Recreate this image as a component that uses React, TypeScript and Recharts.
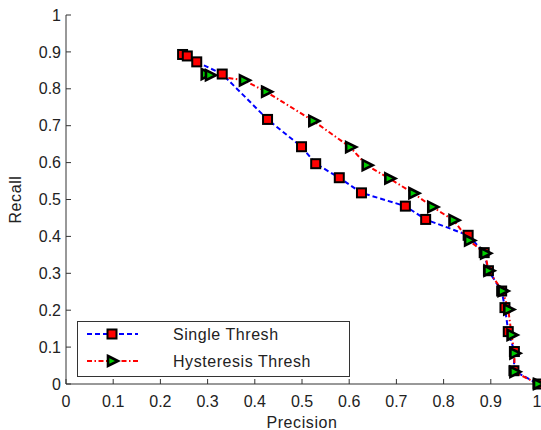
import { Legend, Line, LineChart, XAxis, YAxis } from "recharts";

// precision / recall pairs
const singleP = [0.247, 0.257, 0.277, 0.331, 0.427, 0.499, 0.529, 0.579, 0.626, 0.719, 0.762, 0.852, 0.886, 0.895, 0.923, 0.93, 0.937, 0.95, 0.949, 1.0];
const singleR = [0.893, 0.889, 0.873, 0.84, 0.717, 0.643, 0.597, 0.559, 0.518, 0.482, 0.446, 0.403, 0.356, 0.307, 0.252, 0.207, 0.142, 0.088, 0.036, 0.0];
const hystP = [0.296, 0.305, 0.377, 0.424, 0.524, 0.602, 0.637, 0.685, 0.736, 0.776, 0.821, 0.854, 0.888, 0.895, 0.925, 0.937, 0.944, 0.95, 0.95, 1.0];
const hystR = [0.84, 0.837, 0.823, 0.792, 0.713, 0.642, 0.593, 0.557, 0.517, 0.48, 0.444, 0.389, 0.354, 0.307, 0.252, 0.202, 0.133, 0.083, 0.033, 0.0];
const TICKS = [0, 0.1, 0.2, 0.3, 0.4, 0.5, 0.6, 0.7, 0.8, 0.9, 1];

const single = singleP.map((p, i) => ({ p, r: singleR[i] }));
const hyst = hystP.map((p, i) => ({ p, r: hystR[i] }));

const AXIS = "#333";
const TEXT = "#222";
const FONT = "Arial, 'Liberation Sans', sans-serif";
const BLUE = "#0000ff";
const RED = "#ff0000";
const GREEN = "#00cc00";

function square(cx: number, cy: number, key?: string) {
  return (
    <rect key={key} x={cx - 4.5} y={cy - 4.5} width={9} height={9} fill={RED} stroke="#000" strokeWidth={2} />
  );
}

function triangle(cx: number, cy: number, key?: string) {
  return (
    <polygon
      key={key}
      points={`${cx - 4},${cy - 5} ${cx + 6},${cy} ${cx - 4},${cy + 5}`}
      fill={GREEN}
      stroke="#000"
      strokeWidth={2.6}
    />
  );
}

const SERIES = [
  { name: "Single Thresh", color: BLUE, dash: "5 3", marker: square },
  { name: "Hysteresis Thresh", color: RED, dash: "5 2.5 1.5 2.5", marker: triangle },
];

function LegendBox() {
  return (
    <svg width={274} height={57} style={{ display: "block" }}>
      <rect x={0.5} y={0.5} width={272} height={55} fill="#fff" stroke={AXIS} />
      {SERIES.map((s, i) => {
        const y = 13 + i * 27;
        return (
          <g key={s.name}>
            <line x1={10} x2={61} y1={y} y2={y} stroke={s.color} strokeWidth={2} strokeDasharray={s.dash} />
            {s.marker(35, y)}
            <text x={96} y={y + 6} fontSize={16} letterSpacing={0.55} fill={TEXT} fontFamily={FONT}>
              {s.name}
            </text>
          </g>
        );
      })}
    </svg>
  );
}

export default function App() {
  return (
    <div style={{ position: "absolute", left: 0, top: 0, background: "#fff", fontFamily: FONT }}>
      <LineChart width={541} height={430} margin={{ top: 15, right: 3, bottom: 0, left: 0 }}>
        <XAxis
          xAxisId="b"
          type="number"
          dataKey="p"
          domain={[0, 1]}
          ticks={TICKS}
          tickSize={-5}
          tickMargin={17}
          height={46}
          stroke={AXIS}
          tick={{ fill: TEXT, fontSize: 16 }}
          label={{ value: "Precision", position: "insideBottom", offset: 2, fill: TEXT, fontSize: 16, letterSpacing: 0.6 }}
        />
        <XAxis
          xAxisId="t"
          orientation="top"
          type="number"
          domain={[0, 1]}
          ticks={TICKS}
          tickSize={-5}
          height={0}
          stroke={AXIS}
          tickFormatter={() => ""}
        />
        <YAxis
          yAxisId="l"
          type="number"
          domain={[0, 1]}
          ticks={TICKS}
          tickSize={-5}
          tickMargin={10}
          width={66}
          stroke={AXIS}
          tick={{ fill: TEXT, fontSize: 16 }}
          label={{
            content: ({ viewBox }: any) => (
              <text
                x={15.5}
                y={viewBox.y + viewBox.height / 2}
                transform={`rotate(-90 15.5 ${viewBox.y + viewBox.height / 2})`}
                textAnchor="middle"
                dominantBaseline="central"
                fontSize={16}
                letterSpacing={0.6}
                fill={TEXT}
              >
                Recall
              </text>
            ),
          }}
        />
        <YAxis
          yAxisId="r"
          orientation="right"
          type="number"
          domain={[0, 1]}
          ticks={TICKS}
          tickSize={-5}
          width={0}
          stroke={AXIS}
          tickFormatter={() => ""}
        />
        <Line
          xAxisId="b"
          yAxisId="l"
          data={single}
          dataKey="r"
          name={SERIES[0].name}
          type="linear"
          stroke={BLUE}
          strokeWidth={2}
          strokeDasharray={SERIES[0].dash}
          dot={(props: any) => square(props.cx, props.cy, `s${props.index}`)}
          isAnimationActive={false}
        />
        <Line
          xAxisId="b"
          yAxisId="l"
          data={hyst}
          dataKey="r"
          name={SERIES[1].name}
          type="linear"
          stroke={RED}
          strokeWidth={2}
          strokeDasharray={SERIES[1].dash}
          dot={(props: any) => triangle(props.cx, props.cy, `h${props.index}`)}
          isAnimationActive={false}
        />
        <Legend
          layout="vertical"
          align="center"
          verticalAlign="middle"
          content={() => <LegendBox />}
          wrapperStyle={{ left: 77, top: 321, width: 274, height: 57 }}
        />
      </LineChart>
    </div>
  );
}
